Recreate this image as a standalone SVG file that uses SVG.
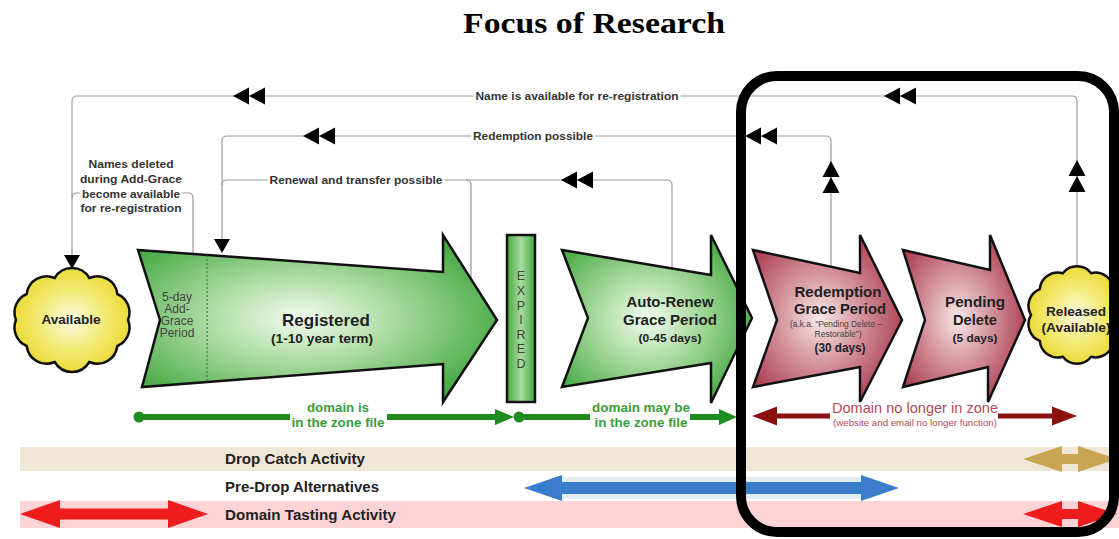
<svg xmlns="http://www.w3.org/2000/svg" width="1119" height="539" viewBox="0 0 1119 539">
  <style>
    .sans { font-family: "Liberation Sans", Arial, sans-serif; }
    .conn { fill: none; stroke: #9a9a9a; stroke-width: 1.2; }
    .head { fill: #000; }
    .lbl { font-family: "Liberation Sans", Arial, sans-serif; font-weight: bold; font-size: 11px; fill: #333; text-anchor: middle; paint-order: stroke; stroke: #fff; stroke-width: 5px; stroke-linejoin: round; }
    .shape { stroke: #111; stroke-width: 2.5; stroke-linejoin: miter; }
    .cloud { fill: url(#gCloud); stroke: #111; stroke-width: 2.5; }
    .nt { font-family: "Liberation Sans", Arial, sans-serif; font-weight: bold; fill: #222; text-anchor: middle; }
    .small { font-family: "Liberation Sans", Arial, sans-serif; fill: #444; text-anchor: middle; }
    .gline { stroke: #1f8c1f; stroke-width: 6; }
    .gtext { font-family: "Liberation Sans", Arial, sans-serif; font-weight: bold; font-size: 12.5px; fill: #3c9c3c; text-anchor: middle; }
    .rline { stroke: #8b1010; stroke-width: 5; }
    .band { font-family: "Liberation Sans", Arial, sans-serif; font-weight: bold; font-size: 14px; fill: #222; }
  </style>
  <defs>
    <radialGradient id="gGreen" cx="0.45" cy="0.5" r="0.6">
      <stop offset="0" stop-color="#f2fbef"/>
      <stop offset="0.4" stop-color="#b0dea6"/>
      <stop offset="1" stop-color="#45a842"/>
    </radialGradient>
    <radialGradient id="gRed" cx="0.45" cy="0.5" r="0.6">
      <stop offset="0" stop-color="#f7e8ea"/>
      <stop offset="0.4" stop-color="#d99ea6"/>
      <stop offset="1" stop-color="#a8374a"/>
    </radialGradient>
    <radialGradient id="gCloud" cx="0.5" cy="0.5" r="0.55">
      <stop offset="0" stop-color="#fdfbe6"/>
      <stop offset="0.5" stop-color="#f4ea78"/>
      <stop offset="1" stop-color="#e8d82c"/>
    </radialGradient>
    <linearGradient id="gExp" x1="0" y1="0" x2="1" y2="0">
      <stop offset="0" stop-color="#45a842"/>
      <stop offset="0.5" stop-color="#a8dc9f"/>
      <stop offset="1" stop-color="#45a842"/>
    </linearGradient>
    <!-- double arrowhead pointing left, tip at origin -->
    <path id="dbl" d="M0,0 L16,-8.5 L16,8.5 Z M16,0 L32,-8.5 L32,8.5 Z"/>
    <!-- single arrowhead pointing down, tip at origin -->
    <path id="tri" d="M-8,-14 L8,-14 L0,0 Z"/>
  </defs>

  <rect width="1119" height="539" fill="#fff"/>

  <!-- title -->
  <text x="594" y="33" text-anchor="middle" font-family="'Liberation Serif', 'Times New Roman', serif" font-weight="bold" font-size="30" fill="#000" textLength="262" lengthAdjust="spacingAndGlyphs">Focus of Research</text>

  <!-- activity bands -->
  <g id="bands">
    <rect x="20" y="447" width="1099" height="24" fill="#f0e6d6"/>
    <rect x="560" y="477" width="305" height="22" fill="#e2edf8"/>
    <rect x="20" y="501" width="1099" height="27" fill="#fdd3d6"/>
    <text class="band" x="225" y="464" textLength="140" lengthAdjust="spacingAndGlyphs">Drop Catch Activity</text>
    <text class="band" x="225" y="492" textLength="154" lengthAdjust="spacingAndGlyphs">Pre-Drop Alternatives</text>
    <text class="band" x="225" y="520" textLength="171" lengthAdjust="spacingAndGlyphs">Domain Tasting Activity</text>
  </g>

  <!-- connectors -->
  <g id="connectors">
    <path class="conn" d="M1077,265 V101 Q1077,96 1072,96 H77 Q72,96 72,101 V256"/>
    <path class="conn" d="M831,267 V141 Q831,136 826,136 H227 Q222,136 222,141 V240"/>
    <path class="conn" d="M672,268 V185 Q672,180 667,180 H227 Q222,180 222,185"/>
    <path class="conn" d="M471,279 V185 Q471,180 466,180"/>
    <path class="conn" d="M193,254 V198 Q193,193 188,193 H77 Q72,193 72,198"/>

    <use href="#dbl" class="head" transform="translate(233,96)"/>
    <use href="#dbl" class="head" transform="translate(884,96)"/>
    <use href="#dbl" class="head" transform="translate(303,136)"/>
    <use href="#dbl" class="head" transform="translate(745,136)"/>
    <use href="#dbl" class="head" transform="translate(561,180)"/>
    <use href="#dbl" class="head" transform="translate(831,161) rotate(90)"/>
    <use href="#dbl" class="head" transform="translate(1077,160) rotate(90)"/>
    <use href="#tri" class="head" transform="translate(72,269)"/>
    <use href="#tri" class="head" transform="translate(222,253)"/>

    <text class="lbl" x="577" y="100" textLength="203" lengthAdjust="spacingAndGlyphs">Name is available for re-registration</text>
    <text class="lbl" x="533" y="140" textLength="120" lengthAdjust="spacingAndGlyphs">Redemption possible</text>
    <text class="lbl" x="356" y="184" textLength="173" lengthAdjust="spacingAndGlyphs">Renewal and transfer possible</text>
    <text class="lbl" x="131" y="168" textLength="85" lengthAdjust="spacingAndGlyphs">Names deleted</text>
    <text class="lbl" x="131" y="183" textLength="102" lengthAdjust="spacingAndGlyphs">during Add-Grace</text>
    <text class="lbl" x="131" y="198" textLength="98" lengthAdjust="spacingAndGlyphs">become available</text>
    <text class="lbl" x="131" y="212" textLength="101" lengthAdjust="spacingAndGlyphs">for re-registration</text>
  </g>

  <!-- nodes -->
  <g id="available">
    <path class="cloud" d="M128,320 A20,20 0 0 1 117.3,346 A20,20 0 0 1 89.3,362 A20,20 0 0 1 54.7,362 A20,20 0 0 1 26.7,346 A20,20 0 0 1 16,320 A20,20 0 0 1 26.7,294 A20,20 0 0 1 54.7,278 A20,20 0 0 1 89.3,278 A20,20 0 0 1 117.3,294 A20,20 0 0 1 128,320 Z"/>
    <text class="nt" x="71" y="324" font-size="13.5" textLength="59" lengthAdjust="spacingAndGlyphs">Available</text>
  </g>

  <g id="registered">
    <path class="shape" fill="url(#gGreen)" d="M138,250 L443,272 L443,235 L497,320 L443,402 L443,364 L142,387 L160,320 Z"/>
    <line x1="207" y1="255" x2="207" y2="382" stroke="#2a6a2a" stroke-width="1" stroke-dasharray="2,2"/>
    <g class="small" font-size="12" fill="#3d4a3d">
      <text x="177" y="301">5-day</text>
      <text x="177" y="313">Add-</text>
      <text x="177" y="325">Grace</text>
      <text x="177" y="337">Period</text>
    </g>
    <text class="nt" x="326" y="326" font-size="17" textLength="88" lengthAdjust="spacingAndGlyphs">Registered</text>
    <text class="nt" x="322" y="343" font-size="12.5" textLength="102" lengthAdjust="spacingAndGlyphs">(1-10 year term)</text>
  </g>

  <g id="expired">
    <rect class="shape" x="507" y="235" width="28" height="167" fill="url(#gExp)"/>
    <g class="small" font-size="12.5" fill="#2a2a2a">
      <text x="521" y="280">E</text>
      <text x="521" y="295">X</text>
      <text x="521" y="310">P</text>
      <text x="521" y="324">I</text>
      <text x="521" y="339">R</text>
      <text x="521" y="353">E</text>
      <text x="521" y="368">D</text>
    </g>
  </g>

  <g id="auto-renew">
    <path class="shape" fill="url(#gGreen)" d="M562,250 L711,275 L711,235 L752,318 L711,403 L711,363 L562,387 L588,318 Z"/>
    <text class="nt" x="670" y="307" font-size="15" textLength="87" lengthAdjust="spacingAndGlyphs">Auto-Renew</text>
    <text class="nt" x="670" y="325" font-size="15" textLength="94" lengthAdjust="spacingAndGlyphs">Grace Period</text>
    <text class="nt" x="670" y="342" font-size="11.5" textLength="63" lengthAdjust="spacingAndGlyphs">(0-45 days)</text>
  </g>

  <g id="redemption">
    <path class="shape" fill="url(#gRed)" d="M753,250 L860,273 L860,235 L902,320 L860,402 L860,367 L753,387 L777,320 Z"/>
    <text class="nt" x="838" y="297" font-size="15" textLength="87" lengthAdjust="spacingAndGlyphs">Redemption</text>
    <text class="nt" x="840" y="314" font-size="15" textLength="92" lengthAdjust="spacingAndGlyphs">Grace Period</text>
    <text class="small" x="836" y="327" font-size="8.5" fill="#555" textLength="92" lengthAdjust="spacingAndGlyphs">(a.k.a. “Pending Delete –</text>
    <text class="small" x="838" y="337" font-size="8.5" fill="#555" textLength="47" lengthAdjust="spacingAndGlyphs">Restorable”)</text>
    <text class="nt" x="840" y="352" font-size="12.5" textLength="51" lengthAdjust="spacingAndGlyphs">(30 days)</text>
  </g>

  <g id="pending-delete">
    <path class="shape" fill="url(#gRed)" d="M903,250 L990,270 L990,235 L1025,320 L988,402 L988,367 L903,387 L925,320 Z"/>
    <text class="nt" x="975" y="307" font-size="15" textLength="60" lengthAdjust="spacingAndGlyphs">Pending</text>
    <text class="nt" x="975" y="325" font-size="15" textLength="44" lengthAdjust="spacingAndGlyphs">Delete</text>
    <text class="nt" x="975" y="342" font-size="11.5" textLength="45" lengthAdjust="spacingAndGlyphs">(5 days)</text>
  </g>

  <g id="released">
    <path class="cloud" d="M1122,315 A18,18 0 0 1 1113.5,340.9 A18,18 0 0 1 1091.2,356.8 A18,18 0 0 1 1062.8,356.8 A18,18 0 0 1 1039.8,340.9 A18,18 0 0 1 1031,315 A18,18 0 0 1 1039.8,289.1 A18,18 0 0 1 1062.8,273.2 A18,18 0 0 1 1091.2,273.2 A18,18 0 0 1 1113.5,289.1 A18,18 0 0 1 1122,315 Z"/>
    <text class="nt" x="1076" y="316" font-size="13.5" textLength="60" lengthAdjust="spacingAndGlyphs">Released</text>
    <text class="nt" x="1076" y="332" font-size="13.5" textLength="69" lengthAdjust="spacingAndGlyphs">(Available)</text>
  </g>

  <!-- zone file timeline -->
  <g id="timeline">
    <circle cx="139" cy="417" r="5.5" fill="#1f8c1f"/>
    <line class="gline" x1="139" y1="417" x2="290" y2="417"/>
    <line class="gline" x1="387" y1="417" x2="500" y2="417"/>
    <path d="M495,409 L514,417 L495,425 Z" fill="#1f8c1f"/>
    <circle cx="519" cy="417" r="5.5" fill="#1f8c1f"/>
    <line class="gline" x1="519" y1="417" x2="590" y2="417"/>
    <line class="gline" x1="690" y1="417" x2="722" y2="417"/>
    <path d="M719,409 L737,417 L719,425 Z" fill="#1f8c1f"/>
    <text class="gtext" x="338" y="412" textLength="62" lengthAdjust="spacingAndGlyphs">domain is</text>
    <text class="gtext" x="338" y="427" textLength="93" lengthAdjust="spacingAndGlyphs">in the zone file</text>
    <text class="gtext" x="641" y="412" textLength="98" lengthAdjust="spacingAndGlyphs">domain may be</text>
    <text class="gtext" x="641" y="427" textLength="93" lengthAdjust="spacingAndGlyphs">in the zone file</text>

    <path d="M752,416 L777,406.5 L777,425.5 Z" fill="#8b1010"/>
    <line class="rline" x1="775" y1="416" x2="830" y2="416"/>
    <line class="rline" x1="998" y1="416" x2="1054" y2="416"/>
    <path d="M1077,416 L1052,406.5 L1052,425.5 Z" fill="#8b1010"/>
    <text class="sans" x="915" y="413" text-anchor="middle" font-size="15" fill="#b5485a" textLength="166" lengthAdjust="spacingAndGlyphs">Domain no longer in zone</text>
    <text class="sans" x="915" y="426" text-anchor="middle" font-size="9.5" fill="#b5485a" textLength="164" lengthAdjust="spacingAndGlyphs">(website and email no longer function)</text>
  </g>

  <!-- activity arrows -->
  <g id="activity-arrows">
    <path fill="#ee1c1c" d="M20,514 L60,500 L60,508.5 L168,508.5 L168,500 L208,514 L168,528 L168,519.5 L60,519.5 L60,528 Z"/>
    <path fill="#3a7dcc" d="M524,488 L562,475 L562,482 L861,482 L861,475 L899,488 L861,501 L861,494 L562,494 L562,501 Z"/>
    <path fill="#c8a453" d="M1023,459 L1062,446 L1062,454 L1078,454 L1078,446 L1117,459 L1078,472 L1078,464 L1062,464 L1062,472 Z"/>
    <path fill="#ee1c1c" d="M1023,514 L1062,501 L1062,509 L1078,509 L1078,501 L1117,514 L1078,527 L1078,519 L1062,519 L1062,527 Z"/>
  </g>

  <!-- research focus frame -->
  <rect id="focus-frame" x="741" y="76" width="373" height="456" rx="36" fill="none" stroke="#000" stroke-width="10"/>
</svg>
